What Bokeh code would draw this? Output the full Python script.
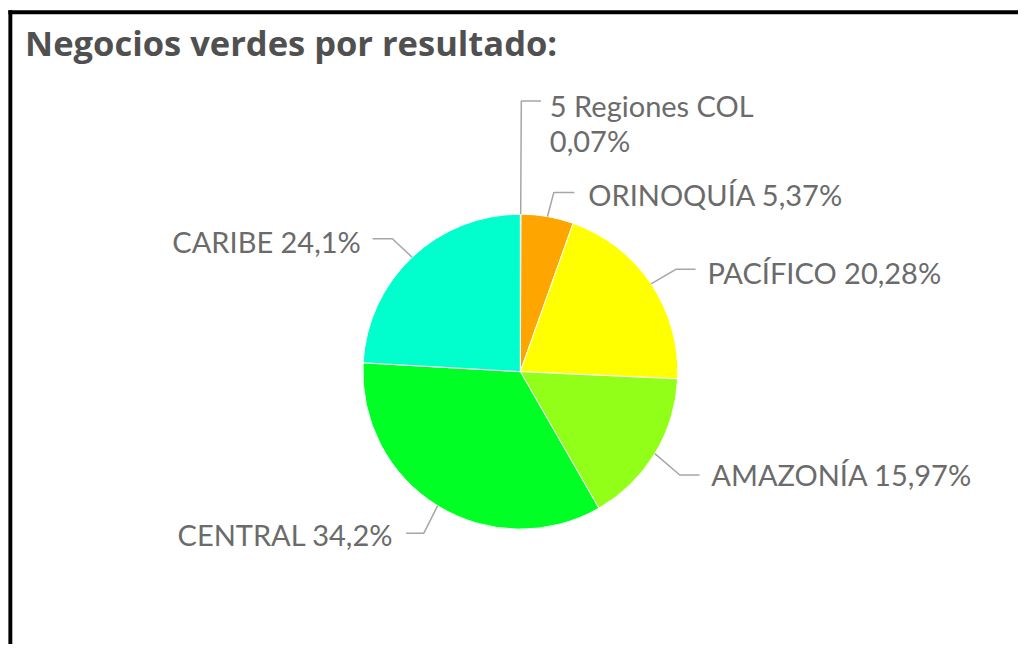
import math
from bokeh.plotting import figure
from bokeh.models import Range1d, ColumnDataSource
from bokeh.core.properties import value
from bokeh.embed import file_html
from bokeh.resources import INLINE

# ---- data ----
title_text = "Negocios verdes por resultado:"
regions = ["5 Regiones COL", "ORINOQUÍA", "PACÍFICO", "AMAZONÍA", "CENTRAL", "CARIBE"]
percents = [0.07, 5.37, 20.28, 15.97, 34.2, 24.1]
pct_labels = ["0,07%", "5,37%", "20,28%", "15,97%", "34,2%", "24,1%"]
colors = ["#c8c8c8", "#FFA500", "#FFFF00", "#91FF17", "#00FF24", "#00FFCC"]

# ---- layout: data units = reference pixels, scaled to the figure ----
W, H = 1018, 644
REF_W = 1034.0
S = W / REF_W                      # px per layout unit
REF_H = H / S
CX, CY, R = 528, 377, 160

def sy(y):  # layout y (down) -> data y (up)
    return -y

def fs(px):
    return "%.1fpx" % (px * S)

p = figure(width=W, height=H, output_backend="svg", toolbar_location=None,
           x_range=Range1d(0, REF_W), y_range=Range1d(-REF_H, 0),
           min_border=0, min_border_left=0, min_border_right=0,
           min_border_top=0, min_border_bottom=0)
p.axis.visible = False
p.grid.visible = False
p.outline_line_color = None
p.background_fill_color = "white"
p.border_fill_color = "white"

# frame border (left and top edges)
p.quad(left=[8], right=[12], top=[sy(10)], bottom=[sy(REF_H + 20)], color="black", line_color=None)
p.quad(left=[8], right=[REF_W + 20], top=[sy(10)], bottom=[sy(14)], color="black", line_color=None)

# wedges, clockwise from 12 o'clock
total = sum(percents)
cum = [0.0]
for v in percents:
    cum.append(cum[-1] + v / total)
starts = [math.pi / 2 - 2 * math.pi * cum[i + 1] for i in range(len(percents))]
ends = [math.pi / 2 - 2 * math.pi * cum[i] for i in range(len(percents))]
mids = [math.pi / 2 - math.pi * (cum[i] + cum[i + 1]) for i in range(len(percents))]

src = ColumnDataSource(dict(start=starts, end=ends, color=colors))
p.wedge(x=CX, y=sy(CY), radius=R, start_angle="start", end_angle="end",
        fill_color="color", line_color="white", line_width=1, source=src)

# leader lines: edge point -> elbow -> end
elbows = [(529, 102), (562, 195), (686, 273), (690, 482), (430, 541), (398, 242)]
ends_x = [549, 583, 706, 710, 412, 378]
for i, m in enumerate(mids):
    ex = CX + R * math.cos(m)
    ey = CY - R * math.sin(m)
    bx, by = elbows[i]
    p.line([ex, bx, ends_x[i]], [sy(ey), sy(by), sy(by)],
           line_color="#a6a6a6", line_width=1.5)

# labels
font = value("Lato")
lab_x = [558, 597, 718, 722, 399, 366]
lab_y = [107, 197, 276, 481, 542, 245]
aligns = ["left", "left", "left", "left", "right", "right"]
texts = []
for i in range(len(regions)):
    if i == 0:
        texts.append(regions[i])
    else:
        texts.append(regions[i] + " " + pct_labels[i])
p.text(x=lab_x, y=[sy(v) for v in lab_y], text=texts,
       text_align=aligns, text_baseline="middle",
       text_font=font, text_font_size=fs(29.5), text_color="#6b6b6b")
p.text(x=[lab_x[0]], y=[sy(142)], text=[pct_labels[0]],
       text_align="left", text_baseline="middle",
       text_font=font, text_font_size=fs(29.5), text_color="#6b6b6b")

# title
p.text(x=[25], y=[sy(43)], text=[title_text], text_align="left",
       text_baseline="middle", text_font=value("Open Sans"), text_font_size=fs(35),
       text_font_style="bold", text_color="#505050")

open("out.html", "w").write(file_html(p, INLINE))
